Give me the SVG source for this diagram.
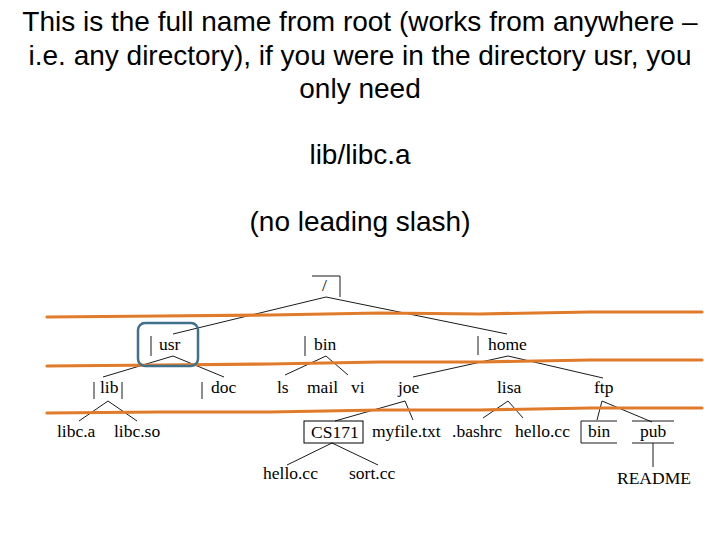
<svg xmlns="http://www.w3.org/2000/svg" width="720" height="540" viewBox="0 0 720 540">
<style>
.t{font-family:"Liberation Sans",Arial,sans-serif;font-size:28px;fill:#000;text-anchor:middle}
.n{font-family:"Liberation Serif","Times New Roman",serif;font-size:17.5px;fill:#000}
.e{stroke:#000;stroke-width:0.9;fill:none}
.o{stroke:#e07b2c;stroke-width:3.2;fill:none;stroke-linecap:round}
</style>
<rect width="720" height="540" fill="#fff"/>
<g id="caption">
<text class="t" x="360" y="31">This is the full name from root (works from anywhere –</text>
<text class="t" x="360" y="65">i.e. any directory), if you were in the directory usr, you</text>
<text class="t" x="360" y="98">only need</text>
<text class="t" x="360" y="164">lib/libc.a</text>
<text class="t" x="360" y="231">(no leading slash)</text>
</g>
<g id="connectors">
<path class="e" d="M326,297 L173,334 M326,297 L507,334"/>
<path class="e" d="M173,356 L103,377 M173,356 L224,377"/>
<path class="e" d="M326,356 L285,375 M326,356 L348,375"/>
<path class="e" d="M508,356 L413,377 M508,356 L603,378"/>
<path class="e" d="M108,401 L79,421 M108,401 L137,421"/>
<path class="e" d="M405,401 L335,421 M405,401 L413,420"/>
<path class="e" d="M508,401 L483,418 M508,401 L523,418"/>
<path class="e" d="M602,401 L597,420 M602,401 L652,422"/>
<path class="e" d="M332,443 L287,465 M332,443 L378,465"/>
<path class="e" d="M653,443 L653,467"/>
</g>
<g id="levels">
<polyline class="o" points="47,317 160,316 270,315 380,313 480,314 590,312 702,312"/>
<polyline class="o" points="47,366 160,365 270,364 380,362 480,362 590,360 702,360"/>
<polyline class="o" points="47,413 160,412 270,412 380,410 480,410 590,408 702,408"/>
</g>
<g id="root">
<path class="e" d="M312,276 L340,276 L340,297"/>
<text class="n" x="322" y="291">/</text>
</g>
<g id="usr">
<rect x="138" y="323" width="60" height="43" rx="7" fill="none" stroke="#41718a" stroke-width="2.5"/>
<path class="e" d="M151,336 L151,356"/>
<text class="n" x="159" y="350">usr</text>
</g>
<g id="bin">
<path class="e" d="M305,336 L305,356"/>
<text class="n" x="314" y="350">bin</text>
</g>
<g id="home">
<path class="e" d="M478,336 L478,355"/>
<text class="n" x="488" y="350">home</text>
</g>
<g id="lib">
<path class="e" d="M94,382 L94,399 M122,382 L122,399"/>
<text class="n" x="100" y="393">lib</text>
</g>
<g id="doc">
<path class="e" d="M202,382 L202,399"/>
<text class="n" x="211" y="393">doc</text>
</g>
<g id="ls"><text class="n" x="277" y="393">ls</text></g>
<g id="mail"><text class="n" x="307" y="393">mail</text></g>
<g id="vi"><text class="n" x="351" y="393">vi</text></g>
<g id="joe"><text class="n" x="398" y="393">joe</text></g>
<g id="lisa"><text class="n" x="497" y="393">lisa</text></g>
<g id="ftp"><text class="n" x="594" y="393">ftp</text></g>
<g id="libc_a"><text class="n" x="57" y="437">libc.a</text></g>
<g id="libc_so"><text class="n" x="114" y="437">libc.so</text></g>
<g id="cs171">
<rect x="304" y="421" width="59" height="22" fill="none" stroke="#000" stroke-width="1"/>
<text class="n" x="311" y="438">CS171</text>
</g>
<g id="myfile"><text class="n" x="372" y="437">myfile.txt</text></g>
<g id="bashrc"><text class="n" x="452" y="437">.bashrc</text></g>
<g id="hello_lisa"><text class="n" x="515" y="437">hello.cc</text></g>
<g id="ftp_bin">
<path class="e" d="M617,421 L581,421 L581,443 L617,443"/>
<text class="n" x="588" y="437">bin</text>
</g>
<g id="pub">
<path class="e" d="M632,421 L674,421 M632,443 L674,443"/>
<text class="n" x="640" y="437">pub</text>
</g>
<g id="hello_cs"><text class="n" x="263" y="479">hello.cc</text></g>
<g id="sort"><text class="n" x="349" y="479">sort.cc</text></g>
<g id="readme"><text class="n" x="617" y="484">README</text></g>
</svg>
